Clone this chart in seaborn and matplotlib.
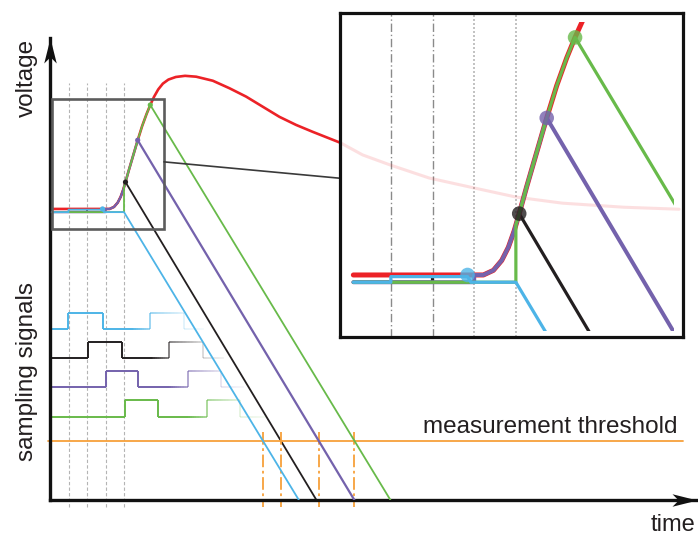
import numpy as np
import matplotlib
matplotlib.use("Agg")
import matplotlib.pyplot as plt
from matplotlib.collections import LineCollection
from matplotlib.patches import Rectangle, ConnectionPatch
from matplotlib.path import Path
from matplotlib.colors import to_rgba
import seaborn as sns

# ---------------------------------------------------------------------------
# Data (time in sampling periods, voltage in arbitrary units)
# ---------------------------------------------------------------------------
pulse_t = [0.1, 1.0, 2.0, 3.0, 3.22, 3.46, 3.66, 3.82, 3.96, 4.08, 4.26, 4.50, 4.74, 4.98,
           5.22, 5.42, 5.62, 5.85, 6.1, 6.4, 6.8, 7.3, 7.9, 8.8, 9.7, 10.6, 11.5, 12.4,
           13.3, 14.2, 15.7, 16.9, 18.4, 20.5, 22.9, 25.2, 27.7, 31.0, 34.0]
pulse_v = [10.08, 10.08, 10.08, 10.08, 10.08, 10.15, 10.30, 10.50, 10.75, 11.01, 11.42, 11.94,
           12.46, 12.95, 13.37, 13.68, 13.96, 14.22, 14.42, 14.56, 14.65, 14.69, 14.66, 14.52,
           14.26, 13.97, 13.62, 13.27, 12.99, 12.75, 12.37, 11.95, 11.60, 11.15, 10.81, 10.49,
           10.28, 10.14, 10.07]

sample_lines = [1, 2, 3, 4]

channel_names = ["ch1", "ch2", "ch3", "ch4"]
reset_level = 9.97
track_on = [1.0, 2.0, 3.0, 4.0]          # switch closes, capacitor follows the pulse
hold_t = [2.84, 4.08, 4.74, 5.42]        # switch opens
hold_v = [10.08, 11.01, 12.46, 13.68]    # stored voltage
ramp_start = [4.0, 4.08, 4.74, 5.42]     # start of linear discharge
ramp_zero = [13.45, 14.4, 16.45, 18.4]   # discharge reaches zero
threshold = 2.06

gate_low = [5.93, 4.92, 3.91, 2.89]
gate_step = 0.56
gate_rise = [[0.99, 5.41], [2.04, 6.45], [3.03, 7.44], [4.05, 8.47]]
gate_fall = [[2.88, 7.22], [3.88, 8.25], [4.77, 9.24], [5.82, 10.28]]
gate_end = [8.3, 9.4, 10.5, 11.7]

# ---------------------------------------------------------------------------
# Styling
# ---------------------------------------------------------------------------
RED = "#EC2227"
COLORS = ["#4DB4E7", "#231F20", "#7462AC", "#68BA4A"]
ORANGE = "#F7A03A"
TEXT = "#231F20"

sns.set_theme(style="white")
plt.rcParams["font.family"] = ["Liberation Sans", "DejaVu Sans"]

W, H = 698, 539
fig = plt.figure(figsize=(W / 100, H / 100), dpi=100)

T_MAX, V_MAX = 34.97, 16.0
ax = fig.add_axes([50 / W, 1 - 500 / H, 647 / W, 462 / H])
ax.set_xlim(0, T_MAX)
ax.set_ylim(0, V_MAX)
ax.set_xticks([])
ax.set_yticks([])
for side in ["top", "right"]:
    ax.spines[side].set_visible(False)
for side in ["left", "bottom"]:
    ax.spines[side].set_linewidth(2.4)
    ax.spines[side].set_color("#111111")
ax.patch.set_alpha(0)


def channel_trace(i, lift=0.0):
    """Voltage on sampling capacitor i: reset, track, hold, discharge."""
    t = [pulse_t[0], track_on[i], track_on[i]]
    v = [reset_level, reset_level, np.interp(track_on[i], pulse_t, pulse_v) - lift]
    for a, b in zip(pulse_t, pulse_v):
        if track_on[i] < a < hold_t[i]:
            t.append(a)
            v.append(b - lift)
    t.append(hold_t[i])
    v.append(hold_v[i] - lift)
    if ramp_start[i] > hold_t[i]:
        t += [hold_t[i] + 0.08, ramp_start[i]]
        v += [reset_level, reset_level]
    t.append(ramp_zero[i])
    v.append(0.0)
    return t, v


def draw_traces(a, lw_pulse, lw_ch, dot_size, dot_alpha, zbase=2):
    order_z = {1: zbase - 0.5, 2: zbase + 1, 3: zbase + 2, 0: zbase + 3}
    sns.lineplot(x=pulse_t, y=pulse_v, ax=a, color=RED, lw=lw_pulse,
                 sort=False, estimator=None, zorder=zbase)
    for i in range(4):
        lift = 0.025 if i == 0 else 0.0
        t, v = channel_trace(i, lift)
        a.plot(t, v, color=COLORS[i], lw=lw_ch * (1.25 if i == 2 else 1.0),
               zorder=order_z[i], solid_joinstyle="round")
    sns.scatterplot(x=hold_t, y=hold_v, hue=channel_names, palette=COLORS, ax=a,
                    s=dot_size, alpha=dot_alpha, edgecolor="none", legend=False,
                    zorder=zbase + 5)


# --- main view -------------------------------------------------------------
for s in sample_lines:
    ax.plot([s, s], [-0.24, 14.44], color="#b4b4b4", lw=0.8, ls=(0, (3, 2)),
            clip_on=False, zorder=1)

draw_traces(ax, lw_pulse=1.9, lw_ch=1.3, dot_size=14, dot_alpha=1.0)

# threshold and crossing markers
ax.plot([-0.1, 34.2], [threshold, threshold], color=ORANGE, lw=1.3, clip_on=False, zorder=2)
for i in range(4):
    v0 = hold_v[i] if ramp_start[i] == hold_t[i] else reset_level
    t_cross = ramp_start[i] + (v0 - threshold) * (ramp_zero[i] - ramp_start[i]) / v0
    ax.plot([t_cross, t_cross], [2.35, -0.24], color=ORANGE, lw=1.3,
            ls=(0, (7, 2, 1.5, 2)), clip_on=False, zorder=2)
ax.text(33.9, 2.32, "measurement threshold", ha="right", va="baseline",
        fontsize=17.5, color=TEXT)

# sampling gate signals, fading out after the second pulse
for i in range(4):
    lo, hi = gate_low[i], gate_low[i] + gate_step
    (r1, r2), (f1, f2) = gate_rise[i], gate_fall[i]
    pts = [(0.1, lo), (r1, lo), (r1, hi), (f1, hi), (f1, lo), (r2, lo), (r2, hi),
           (f2, hi), (f2, lo), (gate_end[i], lo)]
    segs, cols = [], []
    base = np.array(to_rgba(COLORS[i]))
    for (x0, y0), (x1, y1) in zip(pts[:-1], pts[1:]):
        n = 24
        xs = np.linspace(x0, x1, n + 1)
        ys = np.linspace(y0, y1, n + 1)
        for k in range(n):
            segs.append([(xs[k], ys[k]), (xs[k + 1], ys[k + 1])])
            tm = 0.5 * (xs[k] + xs[k + 1])
            alpha = np.interp(tm, [r2 - 1.0, r2, r2 + 1.8, gate_end[i]], [1, 0.55, 0.16, 0.05])
            c = base.copy()
            c[3] = alpha
            cols.append(c)
    ax.add_collection(LineCollection(segs, colors=cols, linewidths=1.4,
                                     capstyle="butt", zorder=1.5))

# zoom frame
ax.add_patch(Rectangle((0.11, 9.39), 6.05, 4.50, fill=False, edgecolor="#5c5c5c",
                       lw=1.9, zorder=9))

# axis arrows
up = Path([(0, 0), (0.5, -2), (0, -1.5), (-0.5, -2), (0, 0)],
          [Path.MOVETO, Path.LINETO, Path.LINETO, Path.LINETO, Path.CLOSEPOLY])
right = Path([(0, 0), (-2, 0.5), (-1.5, 0), (-2, -0.5), (0, 0)],
             [Path.MOVETO, Path.LINETO, Path.LINETO, Path.LINETO, Path.CLOSEPOLY])
ax.plot([0], [V_MAX], marker=up, ms=36, color="#111111", mew=0, clip_on=False, zorder=10)
ax.plot([T_MAX], [0], marker=right, ms=36, color="#111111", mew=0, clip_on=False, zorder=10)

# --- magnified view ----------------------------------------------------------
ins = fig.add_axes([340 / W, 1 - 337 / H, 343 / W, 324 / H])
ins.set_xlim(-0.22, 8.01)
ins.set_ylim(9.14, 14.05)
ins.set_xticks([])
ins.set_yticks([])
ins.set_facecolor("white")
for sp in ins.spines.values():
    sp.set_visible(True)
    sp.set_linewidth(2.3)
    sp.set_color("#111111")
ins.set_zorder(5)

for s in sample_lines[:2]:
    ins.axvline(s, color="#8a8a8a", lw=1.0, ls=(0, (6, 2, 1, 2)), zorder=1)
for s in sample_lines[2:]:
    ins.axvline(s, color="#b8b8b8", lw=1.2, ls=(0, (1.2, 1.2)), zorder=1)

# faded continuation of the pulse behind the magnified view
ins.plot(pulse_t, pulse_v, transform=ax.transData, color=RED, alpha=0.14, lw=2.2, zorder=1.2)

n_lines = len(ins.lines)
n_colls = len(ins.collections)
draw_traces(ins, lw_pulse=3.6, lw_ch=2.3, dot_size=110, dot_alpha=0.8)
clip = Rectangle((0.0, 9.23), 7.8, 4.68, transform=ins.transData)
for art in list(ins.lines)[n_lines:] + list(ins.collections)[n_colls:]:
    art.set_clip_path(clip)

con = ConnectionPatch(xyA=(6.16, 11.71), coordsA=ax.transData,
                      xyB=(0.0, 0.49), coordsB=ins.transAxes,
                      color="#3a3a3a", lw=1.2, zorder=3)
fig.add_artist(con)

# --- labels -----------------------------------------------------------------
fig.text(27 / W, 1 - 77.5 / H, "voltage", rotation=90, ha="center", va="center",
         fontsize=17.5, color=TEXT)
fig.text(27 / W, 1 - 371.5 / H, "sampling signals", rotation=90, ha="center",
         va="center", fontsize=17.5, color=TEXT)
fig.text(695 / W, 1 - 531 / H, "time", ha="right", va="baseline", fontsize=17, color=TEXT)

fig.savefig("out.png", dpi=100)
